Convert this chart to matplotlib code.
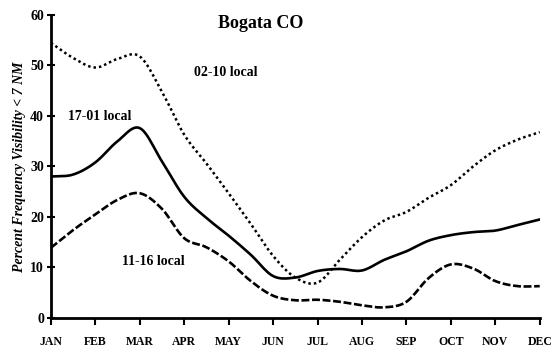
import numpy as np
import matplotlib
matplotlib.use("Agg")
import matplotlib.pyplot as plt

# month labels and half-month positions (0 = JAN, 11 = DEC)
months = ['JAN', 'FEB', 'MAR', 'APR', 'MAY', 'JUN',
          'JUL', 'AUG', 'SEP', 'OCT', 'NOV', 'DEC']
pos = np.arange(23) / 2.0

# percent frequency visibility < 7 NM, read at half-month steps
vis_02_10 = [54.5, 51.5, 49.6, 51.3, 51.8, 44.8, 36.3, 30.6, 24.7, 18.6, 12.3, 8.0,
             7.0, 11.5, 16.0, 19.3, 21.0, 23.8, 26.3, 30.0, 33.2, 35.3, 36.8]
vis_17_01 = [28.0, 28.4, 30.8, 35.0, 37.6, 31.0, 24.0, 19.8, 16.3, 12.5, 8.3, 8.0,
             9.3, 9.7, 9.4, 11.5, 13.2, 15.3, 16.4, 17.0, 17.3, 18.4, 19.5]
vis_11_16 = [13.9, 17.4, 20.5, 23.4, 24.7, 21.6, 15.8, 14.0, 11.2, 7.3, 4.4, 3.5,
             3.6, 3.2, 2.5, 2.1, 3.2, 7.9, 10.6, 9.8, 7.3, 6.3, 6.3]

yticks = [0, 10, 20, 30, 40, 50, 60]


def smooth(x, y, n=12):
    # catmull-rom curve through the read points, just for drawing
    x = np.asarray(x, float)
    y = np.asarray(y, float)
    px = np.concatenate([[2 * x[0] - x[1]], x, [2 * x[-1] - x[-2]]])
    py = np.concatenate([[2 * y[0] - y[1]], y, [2 * y[-1] - y[-2]]])
    t = np.linspace(0, 1, n, endpoint=False)
    xs, ys = [], []
    for i in range(1, len(px) - 2):
        for p, out in ((px, xs), (py, ys)):
            p0, p1, p2, p3 = p[i - 1], p[i], p[i + 1], p[i + 2]
            out.extend(0.5 * (2 * p1 + (-p0 + p2) * t
                              + (2 * p0 - 5 * p1 + 4 * p2 - p3) * t ** 2
                              + (-p0 + 3 * p1 - 3 * p2 + p3) * t ** 3))
    xs.append(x[-1])
    ys.append(y[-1])
    return xs, ys


fig = plt.figure(figsize=(5.53, 3.49), dpi=100)
ax = fig.add_axes([0.092, 0.089, 0.884, 0.868])

ax.plot(*smooth(pos, vis_02_10), color='black', lw=1.8, linestyle=(0, (1, 1.2)))
ax.plot(*smooth(pos, vis_17_01), color='black', lw=1.9, linestyle='-')
ax.plot(*smooth(pos, vis_11_16), color='black', lw=1.9, linestyle=(0, (3, 1)))

ax.set_xlim(0, 11)
ax.set_ylim(0, 60)
ax.set_xticks(range(12))
ax.set_xticklabels(months, fontfamily='Liberation Serif', fontweight='bold', fontsize=8.5)
ax.set_yticks(yticks)
ax.set_yticklabels(yticks, fontfamily='Liberation Serif', fontweight='bold', fontsize=10)
ax.tick_params(axis='x', direction='out', length=5, width=1.5, pad=8)
ax.tick_params(axis='y', direction='inout', length=6, width=1.5, pad=2)

for s in ['top', 'right']:
    ax.spines[s].set_visible(False)
for s in ['left', 'bottom']:
    ax.spines[s].set_linewidth(2)

ax.set_ylabel('Percent Frequency Visibility < 7 NM', fontfamily='Liberation Serif',
              fontweight='bold', fontstyle='italic', fontsize=10, labelpad=3)

ax.text(4.73, 58.3, 'Bogata CO', fontfamily='Liberation Serif', fontweight='bold',
        fontsize=13, ha='center', va='center')
ax.text(3.23, 48.6, '02-10 local', fontfamily='Liberation Serif', fontweight='bold',
        fontsize=10, ha='left', va='center')
ax.text(0.38, 39.8, '17-01 local', fontfamily='Liberation Serif', fontweight='bold',
        fontsize=10, ha='left', va='center')
ax.text(1.6, 11.2, '11-16 local', fontfamily='Liberation Serif', fontweight='bold',
        fontsize=10, ha='left', va='center')

fig.savefig('out.png', dpi=100)
